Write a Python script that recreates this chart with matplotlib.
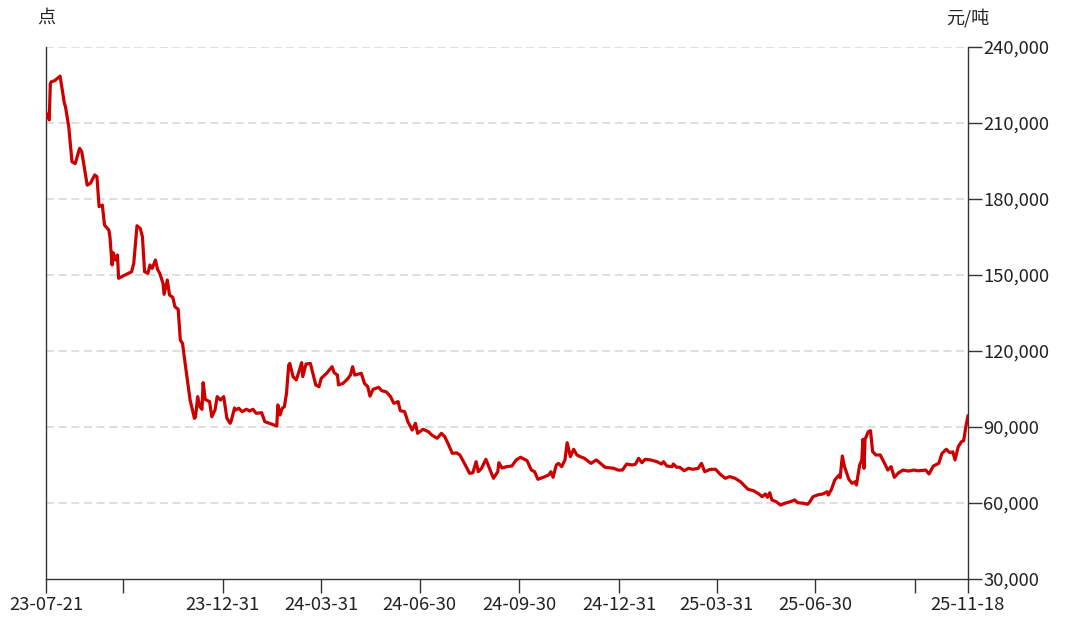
import matplotlib
matplotlib.use("Agg")
import matplotlib.pyplot as plt
import matplotlib.dates as mdates
from matplotlib.ticker import FuncFormatter
import pandas as pd

plt.rcParams['font.family'] = ['Noto Sans CJK SC', 'DejaVu Sans']

# ---- data ----
dates = [
    "2023-07-21", "2023-07-24", "2023-07-25", "2023-07-26", "2023-07-29", "2023-08-03",
    "2023-08-07", "2023-08-08", "2023-08-11", "2023-08-14", "2023-08-17", "2023-08-21",
    "2023-08-23", "2023-08-28", "2023-08-31", "2023-09-04", "2023-09-06", "2023-09-08",
    "2023-09-11", "2023-09-13", "2023-09-17", "2023-09-18", "2023-09-20", "2023-09-21",
    "2023-09-23", "2023-09-25", "2023-09-26", "2023-10-08", "2023-10-10", "2023-10-13",
    "2023-10-16", "2023-10-18", "2023-10-20", "2023-10-23", "2023-10-25", "2023-10-27",
    "2023-10-30", "2023-11-01", "2023-11-03", "2023-11-06", "2023-11-07", "2023-11-10",
    "2023-11-12", "2023-11-15", "2023-11-17", "2023-11-20", "2023-11-22", "2023-11-24",
    "2023-11-26", "2023-12-01", "2023-12-05", "2023-12-06", "2023-12-08", "2023-12-10",
    "2023-12-12", "2023-12-13", "2023-12-15", "2023-12-19", "2023-12-21", "2023-12-24",
    "2023-12-26", "2023-12-29", "2024-01-01", "2024-01-04", "2024-01-07", "2024-01-08",
    "2024-01-11", "2024-01-12", "2024-01-15", "2024-01-18", "2024-01-22", "2024-01-25",
    "2024-01-28", "2024-01-31", "2024-02-05", "2024-02-08", "2024-02-19", "2024-02-20",
    "2024-02-22", "2024-02-24", "2024-02-26", "2024-02-28", "2024-03-01", "2024-03-02",
    "2024-03-05", "2024-03-08", "2024-03-10", "2024-03-13", "2024-03-14", "2024-03-17",
    "2024-03-21", "2024-03-24", "2024-03-26", "2024-03-29", "2024-03-31", "2024-04-05",
    "2024-04-10", "2024-04-12", "2024-04-15", "2024-04-16", "2024-04-20", "2024-04-24",
    "2024-04-27", "2024-04-29", "2024-05-01", "2024-05-07", "2024-05-10", "2024-05-13",
    "2024-05-15", "2024-05-18", "2024-05-23", "2024-05-26", "2024-05-30", "2024-06-03",
    "2024-06-06", "2024-06-10", "2024-06-12", "2024-06-16", "2024-06-19", "2024-06-23",
    "2024-06-26", "2024-06-28", "2024-07-03", "2024-07-08", "2024-07-11", "2024-07-16",
    "2024-07-20", "2024-07-23", "2024-07-26", "2024-07-30", "2024-08-03", "2024-08-06",
    "2024-08-11", "2024-08-15", "2024-08-18", "2024-08-21", "2024-08-23", "2024-08-26",
    "2024-08-30", "2024-09-03", "2024-09-06", "2024-09-10", "2024-09-11", "2024-09-14",
    "2024-09-18", "2024-09-23", "2024-09-27", "2024-10-01", "2024-10-07", "2024-10-11",
    "2024-10-14", "2024-10-17", "2024-10-22", "2024-10-27", "2024-10-29", "2024-10-31",
    "2024-11-03", "2024-11-05", "2024-11-08", "2024-11-11", "2024-11-13", "2024-11-16",
    "2024-11-19", "2024-11-22", "2024-11-25", "2024-11-29", "2024-12-05", "2024-12-10",
    "2024-12-18", "2024-12-26", "2024-12-30", "2025-01-03", "2025-01-07", "2025-01-12",
    "2025-01-15", "2025-01-18", "2025-01-21", "2025-01-24", "2025-01-29", "2025-02-04",
    "2025-02-08", "2025-02-10", "2025-02-13", "2025-02-18", "2025-02-19", "2025-02-22",
    "2025-02-25", "2025-03-01", "2025-03-05", "2025-03-09", "2025-03-14", "2025-03-17",
    "2025-03-20", "2025-03-25", "2025-03-30", "2025-04-03", "2025-04-08", "2025-04-12",
    "2025-04-17", "2025-04-22", "2025-04-25", "2025-04-29", "2025-05-04", "2025-05-09",
    "2025-05-12", "2025-05-15", "2025-05-17", "2025-05-19", "2025-05-21", "2025-05-25",
    "2025-05-29", "2025-06-02", "2025-06-07", "2025-06-11", "2025-06-14", "2025-06-19",
    "2025-06-23", "2025-06-25", "2025-06-28", "2025-07-03", "2025-07-07", "2025-07-11",
    "2025-07-12", "2025-07-15", "2025-07-18", "2025-07-22", "2025-07-23", "2025-07-25",
    "2025-07-27", "2025-07-31", "2025-08-03", "2025-08-06", "2025-08-07", "2025-08-10",
    "2025-08-12", "2025-08-13", "2025-08-14", "2025-08-15", "2025-08-18", "2025-08-20",
    "2025-08-22", "2025-08-25", "2025-08-29", "2025-09-02", "2025-09-05", "2025-09-08",
    "2025-09-11", "2025-09-15", "2025-09-19", "2025-09-24", "2025-09-29", "2025-10-03",
    "2025-10-10", "2025-10-13", "2025-10-17", "2025-10-22", "2025-10-25", "2025-10-29",
    "2025-11-01", "2025-11-04", "2025-11-06", "2025-11-09", "2025-11-12", "2025-11-14",
    "2025-11-16", "2025-11-18",
]
prices = [
    214000, 211200, 225600, 226300, 226700, 228500,
    217700, 216400, 208500, 194700, 194000, 200000,
    198650, 185500, 186200, 189500, 188800, 177000,
    177600, 169700, 167750, 165100, 153950, 158800,
    155900, 157900, 148700, 151300, 154600, 169450,
    168400, 165100, 151300, 150650, 153950, 152600,
    155900, 152200, 150650, 146700, 142370, 148000,
    142100, 141200, 137500, 136450, 124300, 123000,
    116450, 100650, 93400, 94000, 102000, 98000,
    97000, 107500, 100900, 100000, 94050, 96700,
    102000, 100650, 102000, 93400, 91450, 92500,
    97500, 96700, 97400, 96050, 97000, 96300,
    97000, 95400, 95650, 92100, 90400, 98700,
    94750, 97400, 98000, 103300, 114450, 115100,
    109900, 108550, 111200, 115400, 109900, 114850,
    115100, 109900, 106600, 105900, 109200, 111200,
    113800, 111400, 110500, 106600, 107200, 108800,
    110500, 113800, 110500, 111200, 107200, 105900,
    102200, 104900, 105650, 104300, 103900, 102000,
    99350, 100000, 96450, 96050, 92100, 88800,
    91450, 87500, 89100, 88150, 86850, 85550,
    87500, 86200, 83550, 79600, 79800, 78950,
    75000, 71700, 71950, 76300, 72350, 73700,
    77250, 73000, 69750, 72350, 75900, 73800,
    74350, 74600, 77000, 78050, 76700, 73000,
    72350, 69350, 70150, 71050, 72350, 70150,
    75000, 75650, 74350, 77000, 83800, 78300,
    81200, 78950, 78300, 77650, 75650, 77000,
    74100, 73700, 73000, 73000, 75400, 75000,
    75300, 77650, 75900, 77250, 77000, 76300,
    75400, 76300, 74600, 74350, 75400, 74100,
    74100, 72750, 73700, 73300, 73700, 75650,
    72350, 73300, 73300, 71450, 69750, 70400,
    69750, 68400, 67100, 65400, 64850, 63550,
    62500, 63550, 62250, 64050, 61200, 60500,
    59200, 59900, 60500, 61200, 60100, 59900,
    59500, 60500, 62500, 63300, 63550, 64450,
    63150, 65400, 69050, 71050, 70000, 78550,
    74350, 69350, 67750, 68400, 67100, 75000,
    77000, 85150, 73700, 85150, 88150, 88550,
    80250, 78950, 78950, 75650, 73000, 74350,
    70150, 71950, 73000, 72600, 73000, 72700,
    73000, 71450, 74600, 75650, 79600, 81200,
    79900, 80200, 77000, 82200, 84200, 84600,
    90100, 94350,
]
tick_dates = ["2023-07-21", "2023-09-30", "2023-12-31", "2024-03-31", "2024-06-30",
              "2024-09-30", "2024-12-31", "2025-03-31", "2025-06-30", "2025-09-30",
              "2025-11-18"]
tick_labels = ["23-07-21", "", "23-12-31", "24-03-31", "24-06-30",
               "24-09-30", "24-12-31", "25-03-31", "25-06-30", "", "25-11-18"]
y_ticks = [30000, 60000, 90000, 120000, 150000, 180000, 210000, 240000]
left_unit = "点"
right_unit = "元/吨"

# ---- plot ----
fig = plt.figure(figsize=(10.74, 6.26), dpi=100)
ax = fig.add_axes([46 / 1074, 1 - 579 / 626, (968 - 46) / 1074, (579 - 47) / 626])

x = pd.to_datetime(dates)
ax.plot(x, prices, color="#cc0000", lw=2.3, solid_joinstyle="round", zorder=3)

ax.set_xlim(pd.Timestamp("2023-07-21"), pd.Timestamp("2025-11-18"))
ax.set_ylim(30000, 240000)

axis_col = "#333333"
ax.set_xticks(pd.to_datetime(tick_dates))
ax.set_xticklabels(tick_labels)
ax.set_yticks(y_ticks)
ax.yaxis.set_major_formatter(FuncFormatter(lambda v, p: f"{int(v):,}"))
ax.yaxis.tick_right()
ax.tick_params(axis="x", length=10, width=1, color=axis_col, pad=2.0,
               labelsize=13.3, labelcolor="#222222")
ax.tick_params(axis="y", length=10, width=1, color=axis_col, pad=1.0,
               labelsize=13.3, labelcolor="#222222")

ax.spines["top"].set_visible(False)
for s in ["left", "right", "bottom"]:
    ax.spines[s].set_color(axis_col)
    ax.spines[s].set_linewidth(1.0)

for v in y_ticks[1:]:
    ax.axhline(v, color="#dcdcdc", lw=1.3, linestyle=(0, (4.5, 2.5)), zorder=1)

fig.text(46 / 1074, 1 - 18 / 626, left_unit, ha="center", va="center",
         fontsize=13, color="#222222")
fig.text(968 / 1074, 1 - 18 / 626, right_unit, ha="center", va="center",
         fontsize=13, color="#222222")

fig.savefig("out.png", dpi=100, facecolor="white")
